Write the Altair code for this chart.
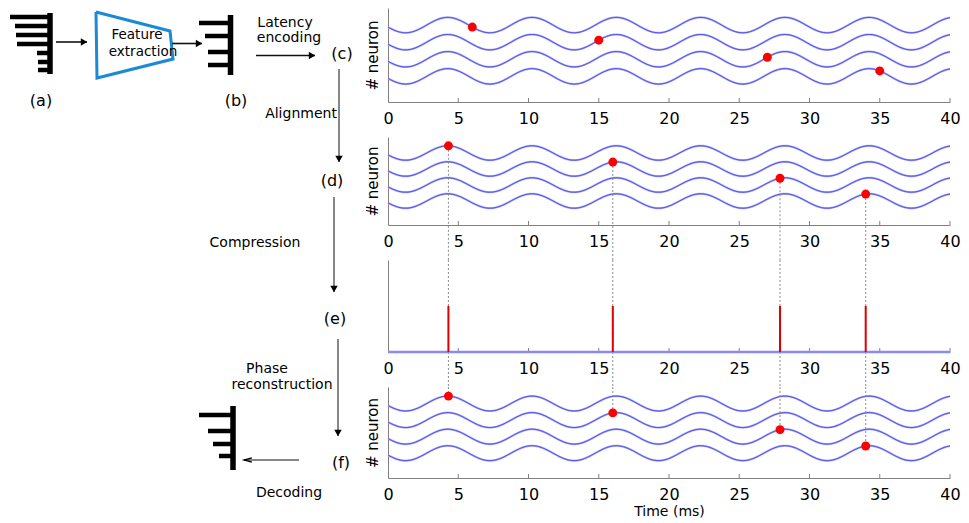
import numpy as np
import pandas as pd
import altair as alt

FONT = "DejaVu Sans"

# ---------------- chart data ----------------
x_ticks = [0, 5, 10, 15, 20, 25, 30, 35, 40]
neuron_ids = [4, 3, 2, 1]            # top to bottom
neuron_levels = [4.5, 3.5, 2.5, 1.5]  # baseline of each neuron's oscillation
osc_period_ms = 6.0
osc_peak_ms = 4.25
osc_amp = 0.45

latency_times = [6.0, 15.0, 27.0, 35.0]   # panel (c)
aligned_times = [4.3, 16.0, 27.9, 34.0]   # panels (d), (e), (f)
spike_neurons = [4, 3, 2, 1]
compressed_height = 0.5

# ---------------- diagram (left side) ----------------
label_text = ["(a)", "(b)", "(c)", "(d)", "(e)", "(f)",
              "Latency", "encoding", "Alignment", "Compression",
              "Phase", "reconstruction", "Decoding", "Feature", "extraction"]
label_x = [41, 236, 342, 332, 335, 341, 285, 289, 301, 255, 267, 282, 289, 137, 143]
label_y = [99, 99, 52, 179, 317, 461, 21, 36, 112, 241, 367, 383, 491, 33, 50]
label_size = [16, 16, 16, 16, 16, 16, 14, 14, 14, 14, 14, 14, 14, 13.5, 13.5]

# arrows: start -> end
arrow_x1 = [56, 172, 256, 339, 334, 338]
arrow_y1 = [40, 41.5, 53.5, 67, 195, 337]
arrow_x2 = [87, 202, 315, 339, 334, 338]
arrow_y2 = [40, 41.5, 53.5, 160, 290, 434]
arrow_w = [1.6, 1.6, 1.6, 1.0, 1.0, 1.0]
arrow_head = ["triangle-right", "triangle-right", "triangle-right",
              "triangle-down", "triangle-down", "triangle-down"]
decode_x1, decode_x2, decode_y = 299, 244, 458

trap_x = [96, 170, 173, 97, 96]
trap_y = [10, 29, 57, 76, 10]

# bar icons: horizontal bars and their vertical spines
bar_y = [15, 24, 33, 42, 51, 60, 68, 21, 34, 50, 63, 413, 429, 442, 454]
bar_x1 = [10, 15, 16, 17, 37, 38, 38, 199, 205, 208, 208, 199, 208, 213, 219]
bar_x2 = [50, 50, 50, 50, 50, 50, 50, 230, 230, 230, 230, 233, 233, 233, 233]
spine_x = [50, 230.5, 233]
spine_y1 = [11, 13, 404]
spine_y2 = [72, 73, 468]

# ---------------- layout ----------------
LEFT_W, LEFT_H, TOP_PAD = 388, 517, 6
PANEL_W = 562
H_C, H_D, H_E, H_F = 94, 88, 92, 91
V_SPACING = 35
Y_TOP = 5.5
D_CONN_END = -V_SPACING / (H_D / Y_TOP)   # reach panel (e) top
E_CONN_END = -V_SPACING / H_E             # reach panel (f) top

WAVE_HALO = "#b3b3f8"
WAVE_CORE = "#3232e6"
AXIS_GREY = "#808080"
DOT_RED = "#ff0000"

level_of = dict(zip(neuron_ids, neuron_levels))


def osc(level, t):
    return level + osc_amp * np.cos(2 * np.pi * (np.asarray(t, dtype=float) - osc_peak_ms) / osc_period_ms)


t_grid = np.linspace(0, 40, 801)
wave_df = pd.DataFrame(
    [{"t": float(t), "neuron": n, "v": float(osc(level_of[n], t))}
     for n in neuron_ids for t in t_grid]
)


def dots_df(times):
    return pd.DataFrame({
        "t": times,
        "neuron": spike_neurons,
        "v": [float(osc(level_of[n], t)) for n, t in zip(spike_neurons, times)],
    })


x_scale = alt.Scale(domain=[0, 40], nice=False, zero=False)


def x_axis(title=None):
    kw = dict(values=x_ticks, ticks=False, grid=False, labelFont=FONT, labelFontSize=16,
              labelColor="black", labelPadding=8, labelFlush=False, labelOverlap=False,
              domainColor=AXIS_GREY, domainWidth=1, format="d")
    if title:
        kw.update(title=title, titleFont=FONT, titleFontSize=14, titleFontWeight="normal",
                  titleColor="black", titlePadding=2)
    else:
        kw.update(title=None)
    return alt.Axis(**kw)


def y_axis(title=True):
    kw = dict(labels=False, ticks=False, grid=False, domainColor=AXIS_GREY, domainWidth=1)
    if title:
        kw.update(title="# neuron", titleFont=FONT, titleFontSize=15, titleFontWeight="normal",
                  titleColor="black", titlePadding=8)
    else:
        kw.update(title=None)
    return alt.Axis(**kw)


def tick_layer(height, X):
    tdf = pd.DataFrame({"t": x_ticks[1:]})
    return alt.Chart(tdf).mark_rule(color=AXIS_GREY, strokeWidth=1).encode(
        x=X, y=alt.value(height), y2=alt.value(height - 4))


def wave_panel(height, dots, x_title=None, conn=None):
    X = alt.X("t:Q", scale=x_scale, axis=x_axis(x_title))
    Y = alt.Y("v:Q", scale=alt.Scale(domain=[0, Y_TOP], nice=False, zero=False), axis=y_axis(True))
    halo = alt.Chart(wave_df).mark_line(stroke=WAVE_HALO, strokeWidth=2.2).encode(
        x=X, y=Y, detail="neuron:N")
    core = alt.Chart(wave_df).mark_line(stroke=WAVE_CORE, strokeWidth=0.9).encode(
        x=X, y=Y, detail="neuron:N")
    layers = [halo, core, tick_layer(height, X)]
    if conn is not None:
        layers.append(alt.Chart(conn).mark_rule(color="#8c8c8c", strokeWidth=1, strokeDash=[2, 2],
                                                clip=False).encode(x=X, y=Y, y2="v2:Q"))
    layers.append(alt.Chart(dots).mark_circle(color=DOT_RED, size=80, opacity=1).encode(x=X, y=Y))
    return alt.layer(*layers).properties(width=PANEL_W, height=height)


dots_c = dots_df(latency_times)
dots_d = dots_df(aligned_times)
dots_f = dots_df(aligned_times)

conn_d = dots_d.assign(v2=D_CONN_END)
conn_f = dots_f.assign(v2=dots_f["v"], v=Y_TOP)

panel_c = wave_panel(H_C, dots_c)
panel_d = wave_panel(H_D, dots_d, conn=conn_d)
panel_f = wave_panel(H_F, dots_f, x_title="Time (ms)", conn=conn_f)

# panel (e): compressed spikes
Xe = alt.X("t:Q", scale=x_scale, axis=x_axis())
Ye = alt.Y("v:Q", scale=alt.Scale(domain=[0, 1], nice=False, zero=False), axis=y_axis(False))
e_base = pd.DataFrame({"t": [0.0], "t2": [40.0], "v": [0.0]})
e_spikes = pd.DataFrame({"t": aligned_times, "v": [0.0] * 4, "v2": [compressed_height] * 4})
e_conn = pd.DataFrame({"t": aligned_times, "v": [1.0] * 4, "v2": [E_CONN_END] * 4})
panel_e = alt.layer(
    alt.Chart(e_conn).mark_rule(color="#8c8c8c", strokeWidth=1, strokeDash=[2, 2], clip=False).encode(
        x=Xe, y=Ye, y2="v2:Q"),
    tick_layer(H_E, Xe),
    alt.Chart(e_base).mark_rule(color="#8a8af5", strokeWidth=2.3).encode(x=Xe, x2="t2:Q", y=Ye),
    alt.Chart(e_spikes).mark_rule(color="#e00000", strokeWidth=2).encode(x=Xe, y=Ye, y2="v2:Q"),
).properties(width=PANEL_W, height=H_E)

right = alt.vconcat(panel_c, panel_d, panel_e, panel_f, spacing=V_SPACING, bounds="flush")

# ---------------- left diagram chart ----------------
LX = alt.X("x:Q", scale=alt.Scale(domain=[0, LEFT_W], nice=False, zero=False), axis=None)
LY = alt.Y("y:Q", scale=alt.Scale(domain=[TOP_PAD, TOP_PAD + LEFT_H], nice=False, zero=False,
                                  reverse=True), axis=None)

labels_df = pd.DataFrame({"text": label_text, "x": label_x, "y": label_y, "size": label_size})
arrows_df = pd.DataFrame({"x": arrow_x1, "y": arrow_y1, "x2": arrow_x2, "y2": arrow_y2, "w": arrow_w})
dx = np.sign(np.array(arrow_x2) - np.array(arrow_x1))
dy = np.sign(np.array(arrow_y2) - np.array(arrow_y1))
heads_df = pd.DataFrame({"x": np.array(arrow_x2) - 3 * dx, "y": np.array(arrow_y2) - 3 * dy,
                         "shape": arrow_head})
decode_df = pd.DataFrame({"x": [decode_x1], "x2": [decode_x2], "y": [decode_y]})
decode_head_df = pd.DataFrame({"x": [decode_x2 + 4], "y": [decode_y]})
trap_df = pd.DataFrame({"x": trap_x, "y": trap_y, "order": list(range(len(trap_x)))})
bars_df = pd.DataFrame({"x": bar_x1, "x2": bar_x2, "y": bar_y})
spines_df = pd.DataFrame({"x": spine_x, "y": spine_y1, "y2": spine_y2})

left = alt.layer(
    alt.Chart(trap_df).mark_line(stroke="#1b8ad6", strokeWidth=3, strokeJoin="miter").encode(
        x=LX, y=LY, order="order:Q"),
    alt.Chart(bars_df).mark_rule(color="black", strokeWidth=4.5).encode(x=LX, x2="x2:Q", y=LY),
    alt.Chart(spines_df).mark_rule(color="black", strokeWidth=5.5).encode(x=LX, y=LY, y2="y2:Q"),
    alt.Chart(arrows_df).mark_rule(color="#111111").encode(
        x=LX, y=LY, x2="x2:Q", y2="y2:Q", strokeWidth=alt.StrokeWidth("w:Q", scale=None)),
    alt.Chart(heads_df).mark_point(filled=True, color="black", size=55, opacity=1).encode(
        x=LX, y=LY, shape=alt.Shape("shape:N", scale=None)),
    alt.Chart(decode_df).mark_rule(color="#111111", strokeWidth=1).encode(x=LX, x2="x2:Q", y=LY),
    alt.Chart(decode_head_df).mark_point(shape="M1,-0.55L-1,0L1,0.55", filled=False, color="black",
                                         strokeWidth=1.3, size=60, opacity=1).encode(x=LX, y=LY),
    alt.Chart(labels_df).mark_text(font=FONT, color="black", align="center", baseline="middle").encode(
        x=LX, y=LY, text="text:N", size=alt.Size("size:Q", scale=None)),
).properties(width=LEFT_W, height=LEFT_H)

chart = alt.hconcat(left, right, spacing=0, bounds="flush").properties(
    padding={"left": 0, "top": TOP_PAD, "right": 5, "bottom": 0},
    background="white",
).configure_view(stroke=None)

chart.save("out.html", embed_options={"renderer": "svg", "actions": False})
